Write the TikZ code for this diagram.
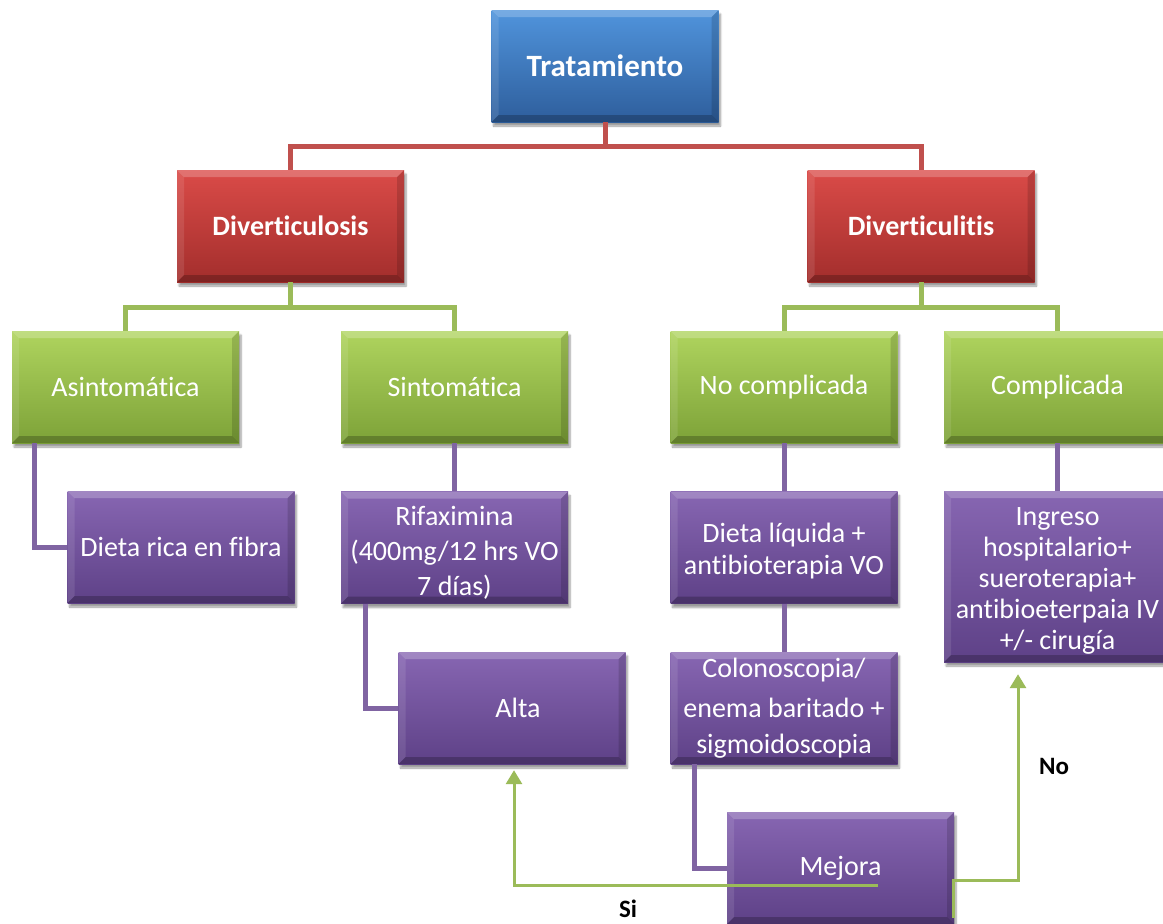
\documentclass[tikz,border=0pt]{standalone}
\usepackage{fontspec}
\setmainfont{Carlito}[Ligatures={NoCommon}]
\usetikzlibrary{arrows.meta,shadows.blur}
\definecolor{blueT}{HTML}{5094DC}
\definecolor{blueB}{HTML}{2E5E9C}
\definecolor{redT}{HTML}{DA4B48}
\definecolor{redB}{HTML}{A32E2C}
\definecolor{greenT}{HTML}{AFD45E}
\definecolor{greenB}{HTML}{7DA238}
\definecolor{purpT}{HTML}{8766B2}
\definecolor{purpB}{HTML}{5E4187}
\definecolor{redline}{HTML}{C0504D}
\definecolor{greenline}{HTML}{9BBB59}
\definecolor{purpline}{HTML}{8064A2}
\newcommand{\bevelpic}{%
 \fill[white,opacity=.22] (path picture bounding box.north west) -- (path picture bounding box.north east) -- ([xshift=-7pt,yshift=-7pt]path picture bounding box.north east) -- ([xshift=7pt,yshift=-7pt]path picture bounding box.north west) -- cycle;
 \fill[white,opacity=.10] (path picture bounding box.north west) -- (path picture bounding box.south west) -- ([xshift=7pt,yshift=7pt]path picture bounding box.south west) -- ([xshift=7pt,yshift=-7pt]path picture bounding box.north west) -- cycle;
 \fill[black,opacity=.22] (path picture bounding box.south west) -- (path picture bounding box.south east) -- ([xshift=-7pt,yshift=7pt]path picture bounding box.south east) -- ([xshift=7pt,yshift=7pt]path picture bounding box.south west) -- cycle;
 \fill[black,opacity=.14] (path picture bounding box.north east) -- (path picture bounding box.south east) -- ([xshift=-7pt,yshift=7pt]path picture bounding box.south east) -- ([xshift=-7pt,yshift=-7pt]path picture bounding box.north east) -- cycle;
}
\tikzset{
 box/.style={rectangle, minimum width=227pt, minimum height=112pt, inner sep=2pt,
   align=center, text=white, font=\fontsize{28}{34}\selectfont,
   blur shadow={shadow xshift=2pt, shadow yshift=-4pt, shadow opacity=40, shadow blur steps=6},
   path picture={\bevelpic}},
 bluebox/.style={box, top color=blueT, bottom color=blueB, font=\fontsize{31}{36}\selectfont\bfseries},
 redbox/.style={box, top color=redT, bottom color=redB, font=\fontsize{28}{34}\selectfont\bfseries},
 greenbox/.style={box, top color=greenT, bottom color=greenB},
 purpbox/.style={box, top color=purpT, bottom color=purpB},
 rl/.style={draw=redline, line width=5pt},
 gl/.style={draw=greenline, line width=5pt},
 pl/.style={draw=purpline, line width=5pt},
 ga/.style={draw=greenline, line width=3pt, -{Triangle[width=16pt,length=14pt]}},
 lab/.style={font=\fontsize{25}{28}\selectfont\bfseries, text=black}
}
\begin{document}
\begin{tikzpicture}[x=1pt,y=-1pt]
\useasboundingbox (0,0) rectangle (1163,924);
% nodes
\node[bluebox] (trat) at (605,66) {Tratamiento};
\node[redbox] (dlosis) at (290.5,226) {Diverticulosis};
\node[redbox] (ditis) at (921,226) {Diverticulitis};
\node[greenbox] (asin) at (125.5,387) {Asintomática};
\node[greenbox] (sint) at (454.5,387) {Sintomática};
\node[greenbox] (nocomp) at (784,387) {No complicada};
\node[greenbox] (comp) at (1057.5,387) {Complicada};
\node[purpbox] (dieta) at (181,547) {Dieta rica en fibra};
\node[purpbox, font=\fontsize{28}{35}\selectfont] (rifax) at (454.5,547.5) {\rule{0pt}{30pt}Rifaximina\\(400mg/12 hrs VO\\7 días)};
\node[purpbox, font=\fontsize{28}{32}\selectfont] (dliq) at (784,547.5) {\rule{0pt}{26pt}Dieta líquida +\\antibioterapia VO};
\node[purpbox, minimum height=171pt, font=\fontsize{28}{31}\selectfont] (ingreso) at (1057.5,576.5) {\rule{0pt}{26pt}Ingreso\\hospitalario+\\sueroterapia+\\antibioeterpaia IV\\+/- cirugía};
\node[purpbox] (alta) at (512,708) {\hspace*{12pt}Alta};
\node[purpbox, font=\fontsize{28}{36}\selectfont] (colon) at (784,708) {Colonoscopia/\\[4pt]enema baritado +\\sigmoidoscopia};
\node[purpbox] (mejora) at (840.5,868) {Mejora};
% connectors
\draw[rl] (trat.south) -- ++(0,24) -| (dlosis.north);
\draw[rl] (trat.south) -- ++(0,24) -| (ditis.north);
\draw[gl] (dlosis.south) -- ++(0,25) -| (asin.north);
\draw[gl] (dlosis.south) -- ++(0,25) -| (sint.north);
\draw[gl] (ditis.south) -- ++(0,25) -| (nocomp.north);
\draw[gl] (ditis.south) -- ++(0,25) -| (comp.north);
\draw[pl] ([xshift=23pt]asin.south west) |- (dieta.west);
\draw[pl] (sint.south) -- (rifax.north);
\draw[pl] ([xshift=25pt]rifax.south west) |- (alta.west);
\draw[pl] (nocomp.south) -- (dliq.north);
\draw[pl] (dliq.south) -- (colon.north);
\draw[pl] ([xshift=24pt]colon.south west) |- (mejora.west);
\draw[pl] (comp.south) -- (ingreso.north);
% decision arrows
\coordinate (siS) at (878,885);
\coordinate (noS) at (953,918);
\coordinate (noC) at (1018,880);
\draw[ga, shorten >=6pt] (siS) -| ([xshift=2pt]alta.south);
\draw[ga, shorten >=12pt] (noS) |- (noC) -- (noC |- ingreso.south);
\node[lab] (si) at (628,909) {Si};
\node[lab] (no) at (1054,766) {No};
\end{tikzpicture}
\end{document}
